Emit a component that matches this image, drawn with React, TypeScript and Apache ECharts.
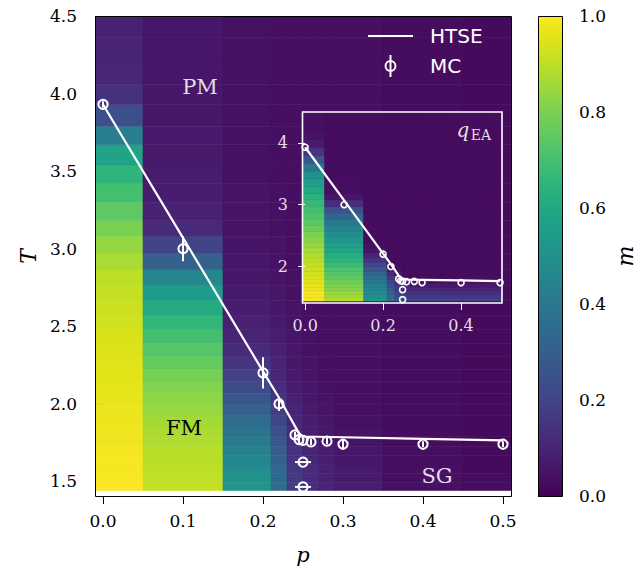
import React, { useEffect, useRef } from "react";
import * as echarts from "echarts";

// ---- grid of the colour maps (bin edges) ----
const pEdges = [-0.05, 0.05, 0.15, 0.21, 0.23, 0.25, 0.27, 0.29, 0.35, 0.45, 0.55];
const tEdges = [1.442, 1.495, 1.55, 1.607, 1.666, 1.727, 1.791, 1.857, 1.925, 1.996, 2.069, 2.145, 2.224, 2.306, 2.391, 2.479, 2.57, 2.665, 2.763, 2.865, 2.97, 3.08, 3.18, 3.3, 3.42, 3.54, 3.67, 3.79, 3.93, 4.06, 4.21, 4.36, 4.5];

// ---- magnetisation m, one column per p bin, rows bottom -> top ----
const m_p000 = [1.0, 0.995, 0.99, 0.99, 0.985, 0.98, 0.98, 0.975, 0.97, 0.965, 0.96, 0.955, 0.95, 0.945, 0.94, 0.93, 0.92, 0.91, 0.9, 0.87, 0.84, 0.8, 0.75, 0.7, 0.65, 0.58, 0.42, 0.24, 0.14, 0.11, 0.1, 0.09];
const m_p010 = [0.91, 0.905, 0.9, 0.895, 0.89, 0.88, 0.87, 0.86, 0.845, 0.83, 0.81, 0.79, 0.76, 0.73, 0.7, 0.66, 0.61, 0.55, 0.46, 0.31, 0.2, 0.12, 0.09, 0.08, 0.075, 0.07, 0.07, 0.065, 0.065, 0.06, 0.06, 0.06];
const m_p020 = [0.52, 0.5, 0.48, 0.46, 0.44, 0.41, 0.38, 0.35, 0.31, 0.27, 0.23, 0.19, 0.15, 0.12, 0.1, 0.09, 0.08, 0.07, 0.065, 0.06, 0.055, 0.05, 0.05, 0.05, 0.045, 0.045, 0.045, 0.045, 0.045, 0.045, 0.045, 0.045];
const m_p022 = [0.35, 0.34, 0.33, 0.31, 0.29, 0.27, 0.24, 0.21, 0.18, 0.15, 0.13, 0.11, 0.1, 0.09, 0.08, 0.07, 0.065, 0.06, 0.055, 0.05, 0.05, 0.045, 0.045, 0.045, 0.04, 0.04, 0.04, 0.04, 0.04, 0.04, 0.04, 0.04];
const m_p024 = [0.18, 0.17, 0.16, 0.15, 0.14, 0.13, 0.12, 0.11, 0.1, 0.09, 0.08, 0.07, 0.065, 0.06, 0.055, 0.05, 0.05, 0.045, 0.045, 0.04, 0.04, 0.04, 0.04, 0.04, 0.04, 0.04, 0.04, 0.04, 0.04, 0.04, 0.04, 0.04];
const m_p026 = [0.13, 0.125, 0.12, 0.11, 0.1, 0.09, 0.085, 0.08, 0.07, 0.065, 0.06, 0.055, 0.05, 0.045, 0.045, 0.04, 0.04, 0.04, 0.04, 0.04, 0.04, 0.04, 0.04, 0.04, 0.04, 0.04, 0.04, 0.04, 0.04, 0.04, 0.04, 0.04];
const m_p028 = [0.1, 0.095, 0.09, 0.085, 0.08, 0.07, 0.065, 0.06, 0.055, 0.05, 0.045, 0.04, 0.04, 0.04, 0.04, 0.04, 0.04, 0.04, 0.04, 0.04, 0.04, 0.04, 0.04, 0.04, 0.04, 0.04, 0.04, 0.04, 0.04, 0.04, 0.04, 0.04];
const m_p030 = [0.08, 0.075, 0.07, 0.065, 0.06, 0.055, 0.05, 0.045, 0.04, 0.04, 0.04, 0.04, 0.04, 0.04, 0.04, 0.04, 0.04, 0.04, 0.04, 0.04, 0.04, 0.04, 0.04, 0.04, 0.04, 0.04, 0.04, 0.04, 0.04, 0.04, 0.04, 0.04];
const m_p040 = [0.045, 0.04, 0.04, 0.035, 0.035, 0.03, 0.03, 0.03, 0.03, 0.03, 0.03, 0.03, 0.03, 0.03, 0.03, 0.03, 0.03, 0.03, 0.03, 0.03, 0.03, 0.03, 0.03, 0.03, 0.03, 0.03, 0.03, 0.03, 0.03, 0.03, 0.03, 0.03];
const m_p050 = [0.03, 0.03, 0.025, 0.025, 0.025, 0.025, 0.025, 0.025, 0.025, 0.025, 0.025, 0.025, 0.025, 0.025, 0.025, 0.025, 0.025, 0.025, 0.025, 0.025, 0.025, 0.025, 0.025, 0.025, 0.025, 0.025, 0.025, 0.025, 0.025, 0.025, 0.025, 0.025];
const mColumns = [m_p000, m_p010, m_p020, m_p022, m_p024, m_p026, m_p028, m_p030, m_p040, m_p050];

// ---- Edwards-Anderson order parameter q_EA (inset), rows bottom -> top ----
const q_p000 = [0.99, 0.99, 0.98, 0.97, 0.96, 0.95, 0.94, 0.93, 0.92, 0.91, 0.895, 0.88, 0.86, 0.84, 0.82, 0.8, 0.77, 0.74, 0.72, 0.7, 0.67, 0.64, 0.6, 0.56, 0.5, 0.4, 0.27, 0.15, 0.07, 0.05, 0.04, 0.04];
const q_p010 = [0.88, 0.86, 0.84, 0.82, 0.8, 0.78, 0.75, 0.73, 0.71, 0.68, 0.65, 0.62, 0.59, 0.56, 0.53, 0.49, 0.45, 0.4, 0.33, 0.25, 0.13, 0.06, 0.035, 0.035, 0.03, 0.03, 0.03, 0.03, 0.03, 0.03, 0.03, 0.03];
const q_p020 = [0.52, 0.5, 0.48, 0.46, 0.43, 0.4, 0.36, 0.32, 0.27, 0.21, 0.15, 0.1, 0.06, 0.04, 0.03, 0.03, 0.03, 0.03, 0.03, 0.03, 0.03, 0.03, 0.03, 0.03, 0.03, 0.03, 0.03, 0.03, 0.03, 0.03, 0.03, 0.03];
const q_p022 = [0.36, 0.34, 0.31, 0.28, 0.24, 0.2, 0.16, 0.12, 0.08, 0.05, 0.035, 0.03, 0.03, 0.03, 0.03, 0.03, 0.03, 0.03, 0.03, 0.03, 0.03, 0.03, 0.03, 0.03, 0.03, 0.03, 0.03, 0.03, 0.03, 0.03, 0.03, 0.03];
const q_p024 = [0.26, 0.24, 0.21, 0.18, 0.15, 0.12, 0.09, 0.06, 0.04, 0.03, 0.03, 0.03, 0.03, 0.03, 0.03, 0.03, 0.03, 0.03, 0.03, 0.03, 0.03, 0.03, 0.03, 0.03, 0.03, 0.03, 0.03, 0.03, 0.03, 0.03, 0.03, 0.03];
const q_p026 = [0.21, 0.18, 0.15, 0.12, 0.09, 0.06, 0.04, 0.03, 0.03, 0.03, 0.03, 0.03, 0.03, 0.03, 0.03, 0.03, 0.03, 0.03, 0.03, 0.03, 0.03, 0.03, 0.03, 0.03, 0.03, 0.03, 0.03, 0.03, 0.03, 0.03, 0.03, 0.03];
const q_p028 = [0.2, 0.17, 0.14, 0.11, 0.08, 0.05, 0.035, 0.03, 0.03, 0.03, 0.03, 0.03, 0.03, 0.03, 0.03, 0.03, 0.03, 0.03, 0.03, 0.03, 0.03, 0.03, 0.03, 0.03, 0.03, 0.03, 0.03, 0.03, 0.03, 0.03, 0.03, 0.03];
const q_p030 = [0.2, 0.17, 0.14, 0.11, 0.08, 0.05, 0.035, 0.03, 0.03, 0.03, 0.03, 0.03, 0.03, 0.03, 0.03, 0.03, 0.03, 0.03, 0.03, 0.03, 0.03, 0.03, 0.03, 0.03, 0.03, 0.03, 0.03, 0.03, 0.03, 0.03, 0.03, 0.03];
const q_p040 = [0.19, 0.16, 0.13, 0.1, 0.07, 0.05, 0.035, 0.03, 0.03, 0.03, 0.03, 0.03, 0.03, 0.03, 0.03, 0.03, 0.03, 0.03, 0.03, 0.03, 0.03, 0.03, 0.03, 0.03, 0.03, 0.03, 0.03, 0.03, 0.03, 0.03, 0.03, 0.03];
const q_p050 = [0.19, 0.16, 0.13, 0.1, 0.07, 0.05, 0.035, 0.03, 0.03, 0.03, 0.03, 0.03, 0.03, 0.03, 0.03, 0.03, 0.03, 0.03, 0.03, 0.03, 0.03, 0.03, 0.03, 0.03, 0.03, 0.03, 0.03, 0.03, 0.03, 0.03, 0.03, 0.03];
const qColumns = [q_p000, q_p010, q_p020, q_p022, q_p024, q_p026, q_p028, q_p030, q_p040, q_p050];

// ---- HTSE transition line ----
const htseP = [0, 0.1, 0.2, 0.22, 0.245, 0.25, 0.3, 0.4, 0.5];
const htseT = [3.93, 3.07, 2.21, 2.04, 1.81, 1.79, 1.785, 1.775, 1.765];

// ---- Monte Carlo points with error bars ----
const mcP = [0, 0.1, 0.2, 0.22, 0.24, 0.245, 0.25, 0.26, 0.28, 0.3, 0.4, 0.5, 0.25, 0.25];
const mcT = [3.93, 3.0, 2.2, 2.0, 1.8, 1.77, 1.765, 1.755, 1.76, 1.74, 1.74, 1.74, 1.625, 1.465];
const mcPerr = [0, 0, 0, 0, 0, 0, 0, 0, 0, 0, 0, 0, 0.01, 0.01];
const mcTerr = [0.02, 0.08, 0.1, 0.045, 0.02, 0.02, 0.02, 0.02, 0.02, 0.03, 0.02, 0.02, 0, 0];

// ---- tick labels ----
const xTicks = [0, 0.1, 0.2, 0.3, 0.4, 0.5];
const yTicks = [1.5, 2.0, 2.5, 3.0, 3.5, 4.0, 4.5];
const insetXTicks = [0, 0.2, 0.4];
const insetYTicks = [2, 3, 4];
const colorbarRange = [0, 1];

const VIRIDIS = ["#440154", "#471365", "#482475", "#463480", "#414487", "#3b528b", "#355f8d", "#2f6c8e", "#2a788e", "#25848e", "#21918c", "#1e9c89", "#22a884", "#2fb47c", "#44bf70", "#5ec962", "#7ad151", "#9bd93c", "#bddf26", "#dfe318", "#fde725"];

const SERIF = '"DejaVu Serif", serif';
const SANS = '"DejaVu Sans", sans-serif';
const LIGHT = "#e4dde8";

function cells(cols: number[][]) {
  const out: number[][] = [];
  cols.forEach((col, i) => {
    col.forEach((v, j) => {
      out.push([pEdges[i], pEdges[i + 1], tEdges[j], tEdges[j + 1], v]);
    });
  });
  return out;
}

const heatRender = (params: any, api: any) => {
  const a = api.coord([api.value(0), api.value(3)]);
  const b = api.coord([api.value(1), api.value(2)]);
  const color = api.visual("color");
  return {
    type: "rect",
    shape: { x: a[0], y: a[1], width: b[0] - a[0], height: b[1] - a[1] },
    style: { fill: color, stroke: color, lineWidth: 0.6 },
  };
};

const MC_ICON =
  "path://M0,10a5.4,5.4 0 1,0 10.8,0a5.4,5.4 0 1,0 -10.8,0z M1.8,10a3.6,3.6 0 1,1 7.2,0a3.6,3.6 0 1,1 -7.2,0z M4.5,0v20h1.8v-20z";

export default function App() {
  const ref = useRef<HTMLDivElement>(null);
  useEffect(() => {
    document.body.style.margin = "0";
    const chart = echarts.init(ref.current!, null, { renderer: "svg" });
    const htse = htseP.map((p, i) => [p, htseT[i]]);
    const mc = mcP.map((p, i) => [p, mcT[i], mcPerr[i], mcTerr[i]]);

    const tickLabel = (v: number) => v.toFixed(1);

    const option: any = {
      animation: false,
      backgroundColor: "#ffffff",
      grid: [
        { left: 95, top: 16, width: 416, height: 481 },
        { left: 538, top: 16, width: 24, height: 480 },
        { left: 302, top: 112, width: 200, height: 191 },
      ],
      xAxis: [
        {
          gridIndex: 0, type: "value", min: -0.01, max: 0.51,
          axisLine: { show: false }, splitLine: { show: false },
          axisTick: { show: true, length: 7, customValues: xTicks, lineStyle: { color: "#000", width: 1 } },
          axisLabel: { customValues: xTicks, formatter: tickLabel, fontFamily: SERIF, fontSize: 17, color: "#000", margin: 15 },
          name: "p", nameLocation: "middle", nameGap: 47,
          nameTextStyle: { fontFamily: SERIF, fontStyle: "italic", fontSize: 21, color: "#000" },
        },
        { gridIndex: 1, type: "value", min: 0, max: 1, show: false },
        {
          gridIndex: 2, type: "value", min: -0.008, max: 0.505, z: 20,
          axisLine: { show: false }, splitLine: { show: false },
          axisTick: { show: true, length: 7, customValues: insetXTicks, lineStyle: { color: "#fff", width: 1 } },
          axisLabel: { customValues: insetXTicks, formatter: tickLabel, fontFamily: SERIF, fontSize: 16, color: LIGHT, margin: 14 },
        },
      ],
      yAxis: [
        {
          gridIndex: 0, type: "value", min: 1.4, max: 4.5,
          axisLine: { show: false }, splitLine: { show: false },
          axisTick: { show: true, length: 7, customValues: yTicks, lineStyle: { color: "#000", width: 1 } },
          axisLabel: { customValues: yTicks, formatter: tickLabel, fontFamily: SERIF, fontSize: 17, color: "#000", margin: 18 },
          name: "T", nameLocation: "middle", nameGap: 54, nameRotate: 90,
          nameTextStyle: { fontFamily: SERIF, fontStyle: "italic", fontSize: 22, color: "#000" },
        },
        {
          gridIndex: 1, type: "value", min: 0, max: 1, interval: 0.2, position: "right",
          axisLine: { show: false }, splitLine: { show: false },
          axisTick: { show: true, length: 7, lineStyle: { color: "#000", width: 1 } },
          axisLabel: { formatter: tickLabel, fontFamily: SERIF, fontSize: 17, color: "#000", margin: 17 },
          name: "m", nameLocation: "middle", nameGap: 52, nameRotate: 90,
          nameTextStyle: { fontFamily: SERIF, fontStyle: "italic", fontSize: 22, color: "#000" },
        },
        {
          gridIndex: 2, type: "value", min: 1.41, max: 4.5, z: 20,
          axisLine: { show: false }, splitLine: { show: false },
          axisTick: { show: true, length: 7, customValues: insetYTicks, lineStyle: { color: "#fff", width: 1 } },
          axisLabel: { customValues: insetYTicks, formatter: (v: number) => String(v), fontFamily: SERIF, fontSize: 16, color: LIGHT, margin: 14 },
        },
      ],
      visualMap: [
        { type: "continuous", show: false, min: 0, max: 1, dimension: 4, seriesIndex: 0, inRange: { color: VIRIDIS } },
        { type: "continuous", show: false, min: 0, max: 1, dimension: 4, seriesIndex: 4, inRange: { color: VIRIDIS } },
      ],
      legend: {
        left: 368, top: 26, orient: "vertical", itemGap: 9, itemWidth: 45, itemHeight: 22, padding: 0,
        selectedMode: false,
        textStyle: { color: "#fff", fontSize: 20, fontFamily: SANS, padding: [0, 0, 0, 12] },
        data: [
          { name: "HTSE", icon: "path://M0,0h45v2h-45z", itemStyle: { color: "#fff" } },
          { name: "MC", icon: MC_ICON, itemStyle: { color: "#fff" } },
        ],
      },
      series: [
        {
          type: "custom", name: "m", xAxisIndex: 0, yAxisIndex: 0, z: 1, clip: true, silent: true,
          encode: { x: [0, 1], y: [2, 3] }, renderItem: heatRender, data: cells(mColumns),
        },
        {
          type: "line", name: "HTSE", xAxisIndex: 0, yAxisIndex: 0, z: 4, silent: true,
          data: htse, showSymbol: false, color: "#fff", lineStyle: { color: "#fff", width: 2.2 },
        },
        {
          type: "custom", name: "MC", xAxisIndex: 0, yAxisIndex: 0, z: 5, silent: true,
          itemStyle: { color: "#fff" },
          encode: { x: 0, y: 1 },
          renderItem: (params: any, api: any) => {
            const p = api.value(0), t = api.value(1), pe = api.value(2), te = api.value(3);
            const c = api.coord([p, t]);
            const children: any[] = [];
            if (te > 0) {
              const a = api.coord([p, t - te]);
              const b = api.coord([p, t + te]);
              children.push({ type: "line", shape: { x1: a[0], y1: a[1], x2: b[0], y2: b[1] }, style: { stroke: "#fff", lineWidth: 2 } });
            }
            if (pe > 0) {
              const a = api.coord([p - pe, t]);
              const b = api.coord([p + pe, t]);
              children.push({ type: "line", shape: { x1: a[0], y1: a[1], x2: b[0], y2: b[1] }, style: { stroke: "#fff", lineWidth: 2 } });
            }
            children.push({ type: "circle", shape: { cx: c[0], cy: c[1], r: 4.6 }, style: { fill: "none", stroke: "#fff", lineWidth: 2 } });
            return { type: "group", children };
          },
          data: mc,
        },
        {
          type: "custom", name: "colorbar", xAxisIndex: 1, yAxisIndex: 1, z: 1, silent: true,
          encode: { x: [0, 1], y: [2, 3] },
          renderItem: (params: any, api: any) => {
            const a = api.coord([api.value(0), api.value(3)]);
            const b = api.coord([api.value(1), api.value(2)]);
            return {
              type: "rect",
              shape: { x: a[0], y: a[1], width: b[0] - a[0], height: b[1] - a[1] },
              style: {
                fill: new echarts.graphic.LinearGradient(0, 1, 0, 0,
                  VIRIDIS.map((c, i) => ({ offset: i / (VIRIDIS.length - 1), color: c }))),
              },
            };
          },
          data: [[colorbarRange[0], colorbarRange[1], colorbarRange[0], colorbarRange[1]]],
        },
        {
          type: "custom", name: "qEA", xAxisIndex: 2, yAxisIndex: 2, z: 10, clip: true, silent: true,
          encode: { x: [0, 1], y: [2, 3] }, renderItem: heatRender, data: cells(qColumns),
        },
        {
          type: "line", name: "HTSE inset", xAxisIndex: 2, yAxisIndex: 2, z: 11, silent: true,
          data: htse, showSymbol: false, lineStyle: { color: "#fff", width: 2.2 },
        },
        {
          type: "scatter", name: "MC inset", xAxisIndex: 2, yAxisIndex: 2, z: 12, silent: true,
          data: mcP.map((p, i) => [p, mcT[i]]), symbol: "circle", symbolSize: 6,
          itemStyle: { color: "none", borderColor: "#fff", borderWidth: 1.6, opacity: 1 },
        },
      ],
      graphic: [
        { type: "rect", z: 100, silent: true, shape: { x: 95.5, y: 16.5, width: 416, height: 480 }, style: { fill: "none", stroke: "#000", lineWidth: 1 } },
        { type: "rect", z: 100, silent: true, shape: { x: 538.5, y: 16.5, width: 24, height: 480 }, style: { fill: "none", stroke: "#000", lineWidth: 1 } },
        { type: "rect", z: 100, silent: true, shape: { x: 302.5, y: 112, width: 199.5, height: 191 }, style: { fill: "none", stroke: "#fff", lineWidth: 1.6 } },
        { type: "text", z: 100, silent: true, x: 200, y: 87, style: { text: "PM", fill: LIGHT, font: `21px ${SERIF}`, textAlign: "center", textVerticalAlign: "middle" } },
        { type: "text", z: 100, silent: true, x: 184, y: 428, style: { text: "FM", fill: "#000", font: `21px ${SERIF}`, textAlign: "center", textVerticalAlign: "middle" } },
        { type: "text", z: 100, silent: true, x: 437, y: 476, style: { text: "SG", fill: LIGHT, font: `21px ${SERIF}`, textAlign: "center", textVerticalAlign: "middle" } },
        { type: "text", z: 100, silent: true, x: 463, y: 130, style: { text: "q", fill: LIGHT, font: `italic 20px ${SERIF}`, textAlign: "center", textVerticalAlign: "middle" } },
        { type: "text", z: 100, silent: true, x: 481, y: 135, style: { text: "EA", fill: LIGHT, font: `14px ${SERIF}`, textAlign: "center", textVerticalAlign: "middle" } },
      ],
    };
    chart.setOption(option);
    return () => chart.dispose();
  }, []);
  return <div ref={ref} style={{ position: "absolute", left: 0, top: 0, width: 641, height: 570 }} />;
}
